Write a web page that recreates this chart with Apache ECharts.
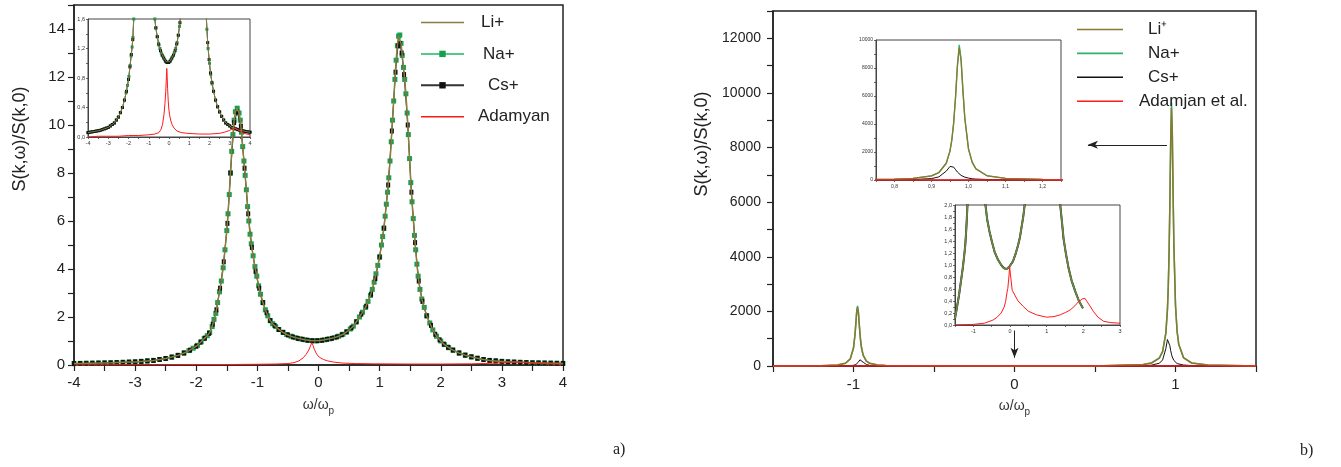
<!DOCTYPE html>
<html><head><meta charset="utf-8">
<script src="https://cdn.jsdelivr.net/npm/echarts@6/dist/echarts.min.js"></script>
<style>html,body{margin:0;padding:0;background:#fff}#c{width:1341px;height:467px}</style>
</head><body><div id="c"></div>
<script>
// ---------- Panel a) : [omega/omega_p, S(k,w)/S(k,0)] ----------
const liNaA = [[-4.0,0.06],[-3.9,0.065],[-3.8,0.07],[-3.7,0.075],[-3.6,0.08],[-3.5,0.085],[-3.4,0.09],[-3.3,0.10],[-3.2,0.11],[-3.1,0.12],[-3.0,0.13],[-2.9,0.15],[-2.8,0.17],[-2.7,0.19],[-2.6,0.23],[-2.5,0.27],[-2.4,0.33],[-2.3,0.40],[-2.2,0.50],[-2.12,0.60],[-2.05,0.70],[-1.98,0.82],[-1.92,0.97],[-1.87,1.10],[-1.82,1.22],[-1.78,1.35],[-1.74,1.60],[-1.71,1.90],[-1.68,2.15],[-1.65,2.60],[-1.62,3.05],[-1.59,3.50],[-1.56,4.05],[-1.53,4.80],[-1.50,5.60],[-1.48,6.30],[-1.46,7.10],[-1.44,8.00],[-1.42,8.90],[-1.40,9.60],[-1.38,10.20],[-1.36,10.55],[-1.33,10.70],[-1.30,10.50],[-1.28,10.20],[-1.26,9.70],[-1.24,9.10],[-1.22,8.50],[-1.20,7.90],[-1.18,7.30],[-1.16,6.60],[-1.14,6.00],[-1.12,5.45],[-1.10,5.05],[-1.07,4.55],[-1.04,4.10],[-1.01,3.70],[-0.98,3.30],[-0.95,2.95],[-0.91,2.60],[-0.87,2.30],[-0.83,2.05],[-0.79,1.85],[-0.75,1.72],[-0.70,1.60],[-0.65,1.48],[-0.58,1.36],[-0.52,1.27],[-0.45,1.20],[-0.38,1.14],[-0.30,1.09],[-0.22,1.05],[-0.14,1.02],[-0.06,1.01],[0.02,1.02],[0.10,1.05],[0.18,1.09],[0.26,1.14],[0.33,1.20],[0.40,1.28],[0.46,1.38],[0.52,1.50],[0.57,1.62],[0.62,1.80],[0.67,2.00],[0.72,2.20],[0.77,2.40],[0.81,2.65],[0.85,2.90],[0.88,3.15],[0.91,3.45],[0.94,3.80],[0.97,4.15],[1.00,4.50],[1.03,5.00],[1.05,5.35],[1.07,5.70],[1.09,6.20],[1.11,6.70],[1.13,7.20],[1.15,7.80],[1.17,8.50],[1.19,9.30],[1.21,10.20],[1.23,11.00],[1.25,11.90],[1.27,12.70],[1.29,13.30],[1.31,13.70],[1.33,13.75],[1.35,13.40],[1.37,12.90],[1.39,12.40],[1.41,11.90],[1.43,11.30],[1.45,10.50],[1.47,9.60],[1.49,8.60],[1.51,7.60],[1.53,6.80],[1.55,6.10],[1.57,5.40],[1.59,4.80],[1.61,4.20],[1.63,3.70],[1.66,3.15],[1.69,2.75],[1.73,2.40],[1.77,2.05],[1.82,1.75],[1.87,1.46],[1.93,1.20],[2.00,1.00],[2.06,0.85],[2.13,0.72],[2.20,0.62],[2.30,0.50],[2.40,0.41],[2.50,0.34],[2.60,0.28],[2.70,0.23],[2.80,0.19],[2.90,0.17],[3.00,0.15],[3.10,0.13],[3.20,0.12],[3.30,0.11],[3.40,0.10],[3.50,0.09],[3.60,0.085],[3.70,0.08],[3.80,0.075],[3.90,0.07],[4.00,0.065]];
const csA = [[-4.0,0.06],[-3.9,0.065],[-3.8,0.07],[-3.7,0.075],[-3.6,0.08],[-3.5,0.085],[-3.4,0.09],[-3.3,0.1],[-3.2,0.11],[-3.1,0.12],[-3.0,0.13],[-2.9,0.15],[-2.8,0.17],[-2.7,0.19],[-2.6,0.23],[-2.5,0.27],[-2.4,0.33],[-2.3,0.4],[-2.2,0.5],[-2.1,0.62],[-2.0,0.78],[-1.93,0.95],[-1.86,1.12],[-1.79,1.32],[-1.73,1.7],[-1.67,2.3],[-1.61,3.2],[-1.55,4.3],[-1.49,5.9],[-1.44,8.0],[-1.38,10.1],[-1.33,10.55],[-1.27,9.95],[-1.21,8.2],[-1.15,6.3],[-1.09,4.9],[-1.03,3.9],[-0.97,3.2],[-0.91,2.6],[-0.85,2.18],[-0.79,1.85],[-0.72,1.65],[-0.65,1.48],[-0.58,1.36],[-0.5,1.25],[-0.42,1.17],[-0.34,1.11],[-0.26,1.07],[-0.18,1.03],[-0.1,1.01],[-0.02,1.01],[0.06,1.03],[0.14,1.07],[0.22,1.11],[0.3,1.17],[0.38,1.26],[0.46,1.38],[0.54,1.55],[0.62,1.8],[0.7,2.12],[0.78,2.45],[0.86,2.95],[0.93,3.6],[1.0,4.5],[1.07,5.7],[1.14,7.5],[1.2,9.75],[1.26,12.2],[1.3,13.3],[1.33,13.4],[1.36,13.0],[1.4,12.1],[1.46,10.0],[1.52,7.2],[1.58,5.1],[1.64,3.5],[1.7,2.65],[1.77,2.05],[1.84,1.65],[1.91,1.28],[1.98,1.05],[2.05,0.87],[2.12,0.74],[2.2,0.62],[2.3,0.5],[2.4,0.41],[2.5,0.34],[2.6,0.28],[2.7,0.23],[2.8,0.19],[2.9,0.17],[3.0,0.15],[3.1,0.13],[3.2,0.12],[3.3,0.11],[3.4,0.1],[3.5,0.09],[3.6,0.085],[3.7,0.08],[3.8,0.075],[3.9,0.07],[4.0,0.065]];
const adamA = [[-4,0.0],[-3.5,0.01],[-3,0.01],[-2.5,0.01],[-2,0.02],[-1.5,0.02],[-1,0.03],[-0.7,0.04],[-0.5,0.06],[-0.4,0.1],[-0.32,0.17],[-0.25,0.3],[-0.2,0.45],[-0.16,0.62],[-0.13,0.8],[-0.11,0.93],[-0.09,0.82],[-0.07,0.66],[-0.04,0.5],[-0.01,0.38],[0.03,0.3],[0.08,0.23],[0.15,0.17],[0.25,0.12],[0.4,0.08],[0.6,0.06],[0.9,0.05],[1.5,0.04],[2.0,0.04],[2.5,0.05],[2.8,0.07],[3.0,0.09],[3.15,0.115],[3.25,0.12],[3.35,0.11],[3.5,0.08],[3.7,0.05],[4.0,0.03]];

// ---------- Panel b) ----------
const bX   = [-1.5,-1.2,-1.1,-1.05,-1.02,-1.0,-0.99,-0.985,-0.98,-0.975,-0.97,-0.965,-0.96,-0.955,-0.95,-0.94,-0.92,-0.9,-0.85,-0.8,-0.5,0,0.5,0.8,0.85,0.9,0.92,0.94,0.95,0.955,0.96,0.965,0.97,0.975,0.98,0.985,0.99,1.0,1.01,1.02,1.05,1.1,1.2,1.5];
const bNa  = [3,12,38,101,261,667,1200,1610,2015,2200,2015,1610,1200,890,667,400,182,101,38,19,5,1,3,56,110,297,536,1215,2100,2900,4140,5980,8230,9650,8640,6420,4460,2240,1275,807,305,112,35,3];
const bLi  = [3,12,37,99,256,655,1180,1580,1980,2150,1980,1580,1180,875,655,393,179,99,37,19,5,1,3,55,108,292,527,1195,2065,2850,4070,5880,8090,9450,8500,6310,4390,2200,1255,794,300,110,34,3];
const bCs  = [0,1,3,6,12,26,41,55,73,100,140,190,228,225,200,140,55,25,5,2,0,0,0,14,30,102,223,636,970,1020,918,743,570,432,330,257,204,136,87,66,35,15,5,1];
const bAdamX = [-1.5,-1.0,0,1.0,1.5];
const bAdamY = [0,0,1,0,0];
// lower inset of b)
const lowCurve = [[-1.5,0.11],[-1.45,0.28],[-1.39,0.5],[-1.34,0.72],[-1.29,0.94],[-1.25,1.15],[-1.22,1.33],[-1.19,1.62],[-1.16,2.0],[-1.12,2.6],[-1.0,6.0],[-0.8,3.0],[-0.7,2.3],[-0.67,2.0],[-0.62,1.75],[-0.56,1.56],[-0.49,1.38],[-0.42,1.22],[-0.33,1.09],[-0.24,1.0],[-0.17,0.95],[-0.1,0.93],[-0.02,0.97],[0.08,1.06],[0.15,1.18],[0.22,1.33],[0.27,1.46],[0.31,1.61],[0.36,1.8],[0.4,2.0],[0.45,2.4],[0.9,6.0],[1.3,2.6],[1.37,2.0],[1.42,1.7],[1.46,1.44],[1.53,1.17],[1.6,0.94],[1.68,0.74],[1.78,0.56],[1.88,0.4],[1.99,0.28]];
const lowAdam = [[-1.5,0.0],[-1.0,0.01],[-0.7,0.03],[-0.47,0.08],[-0.35,0.13],[-0.24,0.2],[-0.16,0.3],[-0.12,0.39],[-0.08,0.55],[-0.06,0.61],[-0.03,0.8],[-0.01,0.97],[0.02,0.8],[0.06,0.58],[0.13,0.5],[0.22,0.4],[0.36,0.31],[0.5,0.23],[0.72,0.17],[1.0,0.13],[1.2,0.14],[1.37,0.17],[1.52,0.21],[1.64,0.25],[1.77,0.32],[1.87,0.39],[1.99,0.44],[2.05,0.44],[2.1,0.39],[2.2,0.3],[2.28,0.22],[2.4,0.13],[2.56,0.06],[2.75,0.04],[3.0,0.03]];
// arrows (data coordinates of panel b)
const arrowH = [[0.947,8100],[0.456,8100]];
const arrowV = [[0,1300],[0,300]];

const zip = (xs, ys) => xs.map((x, i) => [x, ys[i]]);
const FONT = '"Liberation Sans", Arial, sans-serif';
const C = {olive:'#8C7C40', green:'#14A04E', greenL:'#55C98A', black:'#111', red:'#FF1A1A',
           oliveB:'#8A7A30', greenB:'#2DB36B'};

function xAx(gi, min, max, interval, fmt, o) {
  o = o || {};
  return Object.assign({
    gridIndex: gi, type: 'value', min, max, interval,
    axisLine: {show: true, onZero: false, lineStyle: {color: o.lc || '#222', width: o.lw || 1.5}},
    axisTick: {show: true, length: o.tl || 6, lineStyle: {color: o.lc || '#222', width: o.tw || 1.2}},
    axisLabel: {margin: o.m || 10, fontSize: o.fs || 15, color: o.fc || '#222', fontFamily: FONT, formatter: fmt},
    splitLine: {show: false}
  }, o.extra || {});
}
function yAx(gi, min, max, interval, fmt, o) {
  o = o || {};
  return {
    gridIndex: gi, type: 'value', min, max, interval,
    axisLine: {show: true, onZero: false, lineStyle: {color: o.lc || '#222', width: o.lw || 1.5}},
    axisTick: {show: true, length: o.tl || 6, lineStyle: {color: o.lc || '#222', width: o.tw || 1.2}},
    axisLabel: {margin: o.m || 9, fontSize: o.fs || 15, color: o.fc || '#222', fontFamily: FONT, formatter: fmt},
    splitLine: {show: false}
  };
}
const intFmt = v => (Math.abs(v - Math.round(v)) < 1e-6 ? String(Math.round(v)) : '');
const nameRich = {
  a: {fontSize: 14, color: '#333', fontFamily: FONT},
  b: {fontSize: 10, color: '#333', fontFamily: FONT, padding: [12, 0, 0, 0]}
};
const xName = {name: '{a|ω/ω}{b|p}', nameLocation: 'middle', nameGap: 29, nameTextStyle: {rich: nameRich}};

const grids = [
  {left: 74, top: 5, width: 489, height: 360},
  {left: 88, top: 19, width: 162, height: 118},
  {left: 773, top: 11, width: 483, height: 355},
  {left: 876, top: 40, width: 185, height: 140},
  {left: 955, top: 205, width: 165, height: 120}
].map((g, i) => Object.assign(g, {
  show: true, outerBoundsMode: 'none', containLabel: false,
  borderColor: i === 0 || i === 2 ? '#222' : '#444',
  borderWidth: i === 0 || i === 2 ? 1.5 : 1,
  backgroundColor: i === 0 || i === 2 ? 'transparent' : '#fff'
}));

const small = {lc: '#444', lw: 1, tw: 0.8, tl: 2, fs: 5.5, fc: '#333', m: 3};

const xAxis = [
  xAx(0, -4, 4, 0.5, intFmt, {extra: xName}),
  xAx(1, -4, 4, 0.5, intFmt, small),
  xAx(2, -1.5, 1.5, 0.5, intFmt, {m: 11, extra: xName}),
  xAx(3, 0.75, 1.25, 0.05, v => { const k = Math.round(v * 100); return k % 10 === 0 ? (k / 100).toFixed(1).replace('.', ',') : ''; }, Object.assign({}, small, {m: 4, fs: 5})),
  xAx(4, -1.5, 3, 0.5, intFmt, small)
];
const yAxis = [
  yAx(0, 0, 15, 1, v => (v % 2 === 0 && v <= 14 ? String(v) : '')),
  yAx(1, 0, 1.6, 0.2, v => { const k = Math.round(v * 10); return k % 4 === 0 ? (k / 10).toFixed(1).replace('.', ',') : ''; }, small),
  yAx(2, 0, 13000, 1000, v => (v % 2000 === 0 && v <= 12000 ? String(v) : ''), {fs: 14, m: 12}),
  yAx(3, 0, 10000, 1000, v => (v % 2000 === 0 ? String(v) : ''), Object.assign({}, small, {fs: 5})),
  yAx(4, 0, 2, 0.1, v => { const k = Math.round(v * 10); return k % 2 === 0 ? (k / 10).toFixed(1).replace('.', ',') : ''; }, small)
];

function line(name, gi, data, color, width, z, extra) {
  return Object.assign({
    name, type: 'line', xAxisIndex: gi, yAxisIndex: gi, data, z,
    symbol: 'none', smooth: false, clip: true,
    lineStyle: {color, width}, itemStyle: {color}, emphasis: {disabled: true}
  }, extra || {});
}
const markA = (size) => ({symbol: 'rect', symbolSize: size, showSymbol: true, showAllSymbol: true});

const bNaD = zip(bX, bNa), bLiD = zip(bX, bLi), bCsD = zip(bX, bCs), bAdD = zip(bAdamX, bAdamY);

const series = [
  // panel a main
  line('Na+', 0, liNaA, C.greenL, 1, 2, Object.assign(markA(5), {itemStyle: {color: C.green}})),
  line('Cs+', 0, csA, '#333', 1, 3, Object.assign(markA([4, 5]), {itemStyle: {color: C.black}})),
  line('Li+', 0, liNaA, C.olive, 1.5, 4),
  line('Adamyan', 0, adamA, C.red, 1, 5),
  // panel a inset
  line('Na+ (inset)', 1, liNaA, C.greenL, 0.8, 2, Object.assign(markA(3), {itemStyle: {color: C.green}})),
  line('Cs+ (inset)', 1, csA, '#333', 0.8, 3, Object.assign(markA(3), {itemStyle: {color: C.black}})),
  line('Li+ (inset)', 1, liNaA, C.olive, 1, 4),
  line('Adamyan (inset)', 1, adamA, C.red, 1, 5),
  // panel b main
  line('Cs+\u200b', 2, bCsD, C.black, 1, 2),
  line('Na+\u200b', 2, bNaD, C.greenB, 1.5, 3),
  line('Li\u207A', 2, bLiD, C.oliveB, 1.5, 4),
  line('Adamjan et al.', 2, bAdD, C.red, 1.5, 5, {
    markLine: {
      silent: true, animation: false, symbol: ['none', 'arrow'], symbolSize: [6, 10],
      label: {show: false}, emphasis: {disabled: true},
      lineStyle: {color: '#222', width: 1, type: 'solid'},
      data: [[{coord: arrowH[0]}, {coord: arrowH[1]}], [{coord: arrowV[0]}, {coord: arrowV[1]}]]
    }
  }),
  // panel b upper inset
  line('Cs+ (b1)', 3, bCsD, C.black, 1, 2),
  line('Na+ (b1)', 3, bNaD, C.greenB, 1.3, 3),
  line('Li+ (b1)', 3, bLiD, C.oliveB, 1.3, 4),
  line('Adam (b1)', 3, bAdD, C.red, 1.5, 5),
  // panel b lower inset
  line('Cs+ (b2)', 4, lowCurve, C.black, 2, 2),
  line('Na+ (b2)', 4, lowCurve, C.greenB, 1.4, 3),
  line('Li+ (b2)', 4, lowCurve, C.oliveB, 1.1, 4),
  line('Adam (b2)', 4, lowAdam, C.red, 1, 5)
];

const icon43 = 'path://M0,0H43V1.6H0Z';
const icon46 = 'path://M0,0H46V1.6H0Z';
const pad = p => ({padding: [0, 0, 0, p]});
const legendText = {fontSize: 17, color: '#222', fontFamily: FONT, lineHeight: 14};
const option = {
  animation: false,
  backgroundColor: '#fff',
  grid: grids, xAxis, yAxis, series,
  legend: [
    {orient: 'vertical', left: 415, top: 9, itemWidth: 43, itemHeight: 8, itemGap: 14.4,
     data: [
       {name: 'Li+', icon: icon43, textStyle: pad(12)},
       {name: 'Na+', textStyle: pad(14)},
       {name: 'Cs+', textStyle: pad(19)},
       {name: 'Adamyan', icon: icon43, textStyle: pad(9)}
     ], selectedMode: false, textStyle: legendText},
    {orient: 'vertical', left: 1072, top: 16, itemWidth: 46, itemHeight: 8, itemGap: 6.9,
     data: [
       {name: 'Li\u207A', icon: icon46, textStyle: pad(20)},
       {name: 'Na+\u200b', icon: icon46, textStyle: pad(20)},
       {name: 'Cs+\u200b', icon: icon46, textStyle: pad(20)},
       {name: 'Adamjan et al.', icon: icon46, textStyle: pad(11)}
     ], selectedMode: false, textStyle: legendText}
  ],
  graphic: [
    {type: 'text', x: 20, y: 139, rotation: Math.PI / 2,
     style: {text: 'S(k,ω)/S(k,0)', font: '18px ' + FONT, fill: '#222', textAlign: 'center', textVerticalAlign: 'middle'}},
    {type: 'text', x: 702, y: 144, rotation: Math.PI / 2,
     style: {text: 'S(k,ω)/S(k,0)', font: '18px ' + FONT, fill: '#222', textAlign: 'center', textVerticalAlign: 'middle'}},
    {type: 'text', x: 613, y: 450,
     style: {text: 'a)', font: '16px "Liberation Serif", serif', fill: '#222', textVerticalAlign: 'middle'}},
    {type: 'text', x: 1300, y: 451,
     style: {text: 'b)', font: '16px "Liberation Serif", serif', fill: '#222', textVerticalAlign: 'middle'}}
  ]
};
const chart = echarts.init(document.getElementById('c'), null, {renderer: 'canvas'});
chart.setOption(option);
</script>
</body></html>
